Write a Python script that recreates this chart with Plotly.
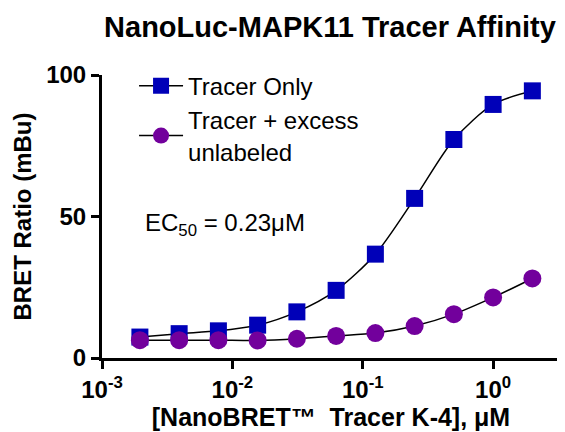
import plotly.graph_objects as go

conc_uM = [0.001953, 0.003906, 0.007813, 0.015625, 0.03125, 0.0625, 0.125, 0.25, 0.5, 1.0, 2.0]
tracer_only = [7.4, 8.6, 9.6, 11.6, 16.3, 23.9, 36.7, 56.4, 77.2, 89.6, 94.4]
tracer_excess = [6.3, 6.3, 6.3, 6.2, 6.8, 7.8, 8.8, 11.3, 15.5, 21.4, 28.1]
x_tickvals = [0.001, 0.01, 0.1, 1]
x_ticktext = ["10<sup>-3</sup>", "10<sup>-2</sup>", "10<sup>-1</sup>", "10<sup>0</sup>"]
y_tickvals = [0, 50, 100]

BLUE = "#0000B8"
PURPLE = "#72009C"
FONT = "Liberation Sans, Arial, sans-serif"

fig = go.Figure()
fig.add_trace(go.Scatter(
    x=conc_uM, y=tracer_only, mode="lines+markers", name="Tracer Only",
    line=dict(color="black", width=1.5, shape="spline", smoothing=0.8),
    marker=dict(symbol="square", size=17, color=BLUE, line=dict(width=0)),
))
fig.add_trace(go.Scatter(
    x=conc_uM, y=tracer_excess, mode="lines+markers", name="Tracer + excess<br>unlabeled",
    line=dict(color="black", width=1.5, shape="spline", smoothing=0.8),
    marker=dict(symbol="circle", size=18, color=PURPLE, line=dict(width=0)),
))

fig.update_layout(
    width=557, height=424,
    margin=dict(l=94, r=5, t=67, b=74),
    paper_bgcolor="white", plot_bgcolor="white",
    font=dict(family=FONT, color="black", size=20),
    title=dict(text="<b>NanoLuc-MAPK11 Tracer Affinity</b>", x=0.578, xanchor="center",
               y=0.955, yanchor="middle", font=dict(size=29, family=FONT)),
    showlegend=True,
    legend=dict(x=0.07, y=1.04, xanchor="left", yanchor="top", bgcolor="rgba(0,0,0,0)",
                font=dict(size=24, family=FONT), tracegroupgap=10, itemwidth=44),
    annotations=[dict(text="EC<sub>50</sub> = 0.23μM", xref="paper", yref="y", x=0.09, y=47,
                      xanchor="left", yanchor="middle", showarrow=False,
                      font=dict(size=24, family=FONT))],
)
fig.update_xaxes(
    type="log", range=[-3, 0.513], tickvals=x_tickvals, ticktext=x_ticktext,
    showgrid=False, zeroline=False, showline=True, linecolor="black", linewidth=3,
    ticks="outside", ticklen=8, tickwidth=3, tickcolor="black",
    tickfont=dict(size=24, family=FONT, weight="bold"),
    title=dict(text="<b>[NanoBRET™  Tracer K-4], μM</b>", font=dict(size=25, family=FONT), standoff=2),
)
fig.update_yaxes(
    range=[0, 100], tickvals=y_tickvals,
    showgrid=False, zeroline=False, showline=True, linecolor="black", linewidth=3,
    ticks="outside", ticklen=8, tickwidth=3, tickcolor="black",
    tickfont=dict(size=24, family=FONT, weight="bold"),
    title=dict(text="<b>BRET Ratio (mBu)</b>", font=dict(size=24, family=FONT), standoff=8),
)

fig.write_html("out.html")
